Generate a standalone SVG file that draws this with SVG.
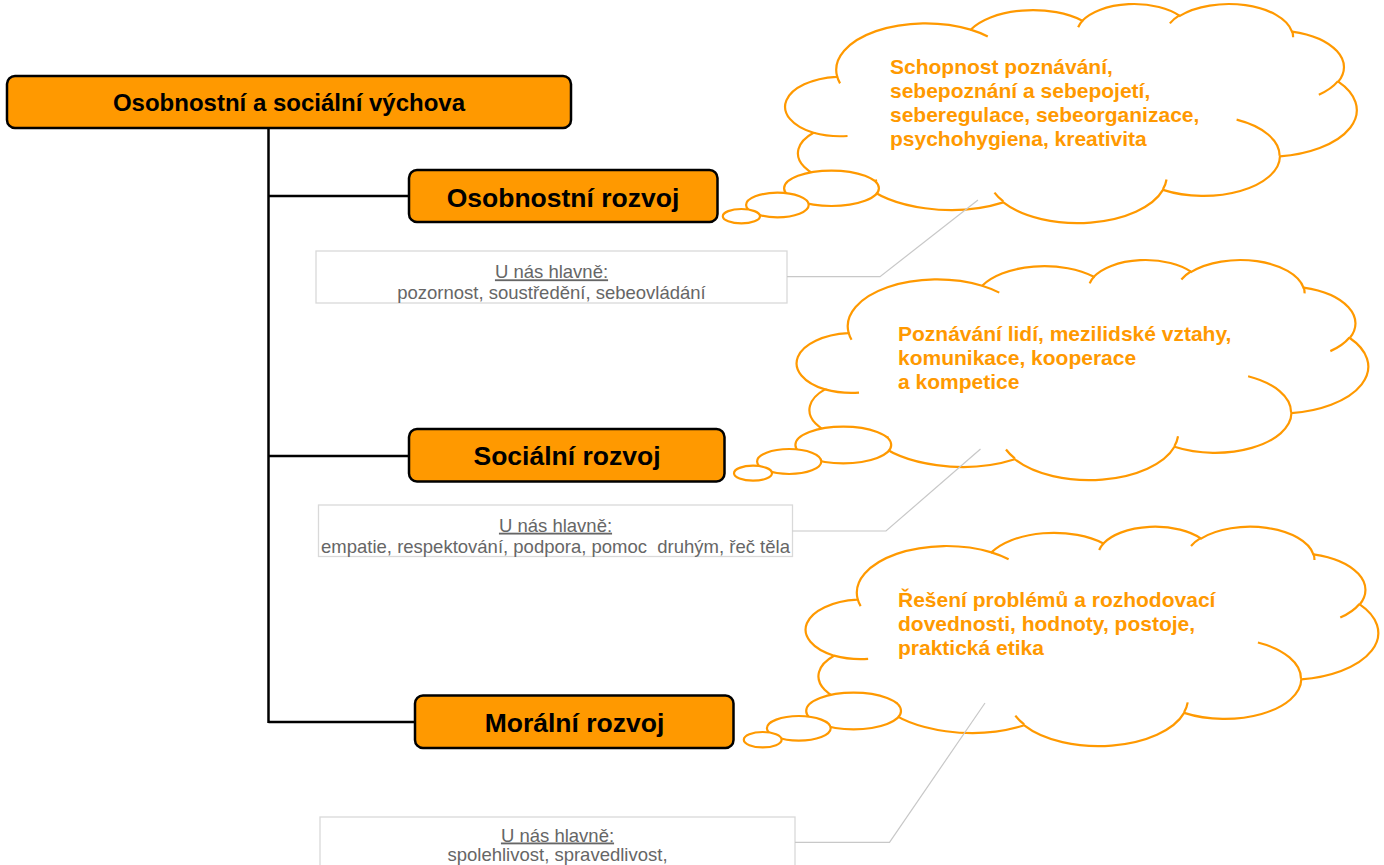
<svg xmlns="http://www.w3.org/2000/svg" xmlns:xlink="http://www.w3.org/1999/xlink" width="1384" height="865" viewBox="0 0 1384 865">
<style>
.node rect { fill:#FF9900; stroke:#000; stroke-width:2.5; }
.node text { font-family:"Liberation Sans", Arial, sans-serif; font-weight:bold; fill:#000; text-anchor:middle; }
.conn { stroke:#000; stroke-width:2.5; fill:none; }
.callout { stroke:#c8c8c8; stroke-width:1.2; fill:none; }
.note rect { fill:#fff; stroke:#d9d9d9; stroke-width:1.3; }
.note text { font-family:"Liberation Sans", Arial, sans-serif; font-size:18.5px; fill:#666; text-anchor:middle; white-space:pre; }
.bubble { fill:#fff; stroke:#FF9900; stroke-width:2.2; }
.ctext { font-family:"Liberation Sans", Arial, sans-serif; font-weight:bold; font-size:21px; fill:#FF9900; }
</style>
<defs>
<path id="cloudBody" fill="#fff" stroke="#FF9900" stroke-width="2.2" vector-effect="non-scaling-stroke" d="M3900 14370 A6753 9190 0 0 1 14005 5202 A5333 7267 0 0 1 22457 3431 A4365 5945 0 0 1 29833 2478 A4857 6595 0 0 1 38318 5573 A5333 7273 0 0 1 41819 15457 A6775 9220 0 0 1 37406 30202 A5785 7867 0 0 1 28558 36812 A6752 9215 0 0 1 16483 39264 A7720 10543 0 0 1 5808 35470 A4360 5918 0 0 1 2117 25547 A4345 5945 0 0 1 3868 14504 Z"/>
<path id="cloudWisps" fill="none" stroke="#FF9900" stroke-width="2.2" vector-effect="non-scaling-stroke" d="M4693 26177 A4345 5945 0 0 1 2117 25547 M6928 34899 A4360 5918 0 0 1 5808 35470 M16478 39090 A6752 9215 0 0 1 15810 37349 M28827 34751 A6752 9215 0 0 1 28560 36660 M34129 22954 A5785 7867 0 0 1 37380 30089 M41798 15354 A5333 7273 0 0 1 40349 18031 M38324 5426 A4857 6595 0 0 1 38400 6690 M29078 3952 A4857 6595 0 0 1 29820 2339 M22141 4720 A4365 5945 0 0 1 22500 3330 M14000 5192 A6753 9190 0 0 1 15302 6543 M4127 15789 A6753 9190 0 0 1 3900 14370"/>
</defs>

<g id="connectors">
<line class="conn" x1="268.5" y1="128" x2="268.5" y2="723"/>
<line class="conn" x1="268.5" y1="196" x2="409" y2="196"/>
<line class="conn" x1="268.5" y1="456" x2="409" y2="456"/>
<line class="conn" x1="268.5" y1="722" x2="415" y2="722"/>
</g>

<g id="root" class="node">
<rect x="7" y="76" width="564" height="52" rx="8"/>
<text x="289" y="110.5" font-size="24">Osobnostní a sociální výchova</text>
</g>
<g id="osobnostni" class="node">
<rect x="409" y="170" width="308.5" height="52" rx="8"/>
<text x="563" y="206.5" font-size="26.5">Osobnostní rozvoj</text>
</g>
<g id="socialni" class="node">
<rect x="409" y="429" width="315.5" height="52.5" rx="8"/>
<text x="567" y="465" font-size="26.5">Sociální rozvoj</text>
</g>
<g id="moralni" class="node">
<rect x="415" y="695.5" width="318.5" height="52.5" rx="8"/>
<text x="574.5" y="731.5" font-size="26.5">Morální rozvoj</text>
</g>

<g id="note1" class="note">
<rect x="316" y="251" width="471" height="52"/>
<text x="551.5" y="278.3" text-decoration="underline">U nás hlavně:</text>
<text x="551.5" y="299.3">pozornost, soustředění, sebeovládání</text>
</g>
<g id="note2" class="note">
<rect x="318.5" y="505" width="474" height="51.5"/>
<text x="555.5" y="531.7" text-decoration="underline">U nás hlavně:</text>
<text x="555.5" y="552.5" xml:space="preserve">empatie, respektování, podpora, pomoc  druhým, řeč těla</text>
</g>
<g id="note3" class="note">
<rect x="320" y="817" width="475" height="60"/>
<text x="557.5" y="841.5" text-decoration="underline">U nás hlavně:</text>
<text x="557.5" y="861">spolehlivost, spravedlivost,</text>
</g>

<g id="cloud1">
<g transform="translate(785.5 3.3) scale(0.013218 0.0050694)">
<use xlink:href="#cloudBody" href="#cloudBody"/>
<use xlink:href="#cloudWisps" href="#cloudWisps"/>
</g>
<ellipse class="bubble" cx="831.5" cy="188.3" rx="47.4" ry="17.7"/>
<ellipse class="bubble" cx="777.4" cy="205" rx="31.3" ry="12.3"/>
<ellipse class="bubble" cx="741.4" cy="216.2" rx="18.6" ry="7.2"/>
<text class="ctext" x="890" y="74">Schopnost poznávání,</text>
<text class="ctext" x="890" y="98">sebepoznání a sebepojetí,</text>
<text class="ctext" x="890" y="122">seberegulace, sebeorganizace,</text>
<text class="ctext" x="890" y="146">psychohygiena, kreativita</text>
</g>

<g id="cloud2">
<g transform="translate(797 259.3) scale(0.013218 0.0050926)">
<use xlink:href="#cloudBody" href="#cloudBody"/>
<use xlink:href="#cloudWisps" href="#cloudWisps"/>
</g>
<ellipse class="bubble" cx="843.3" cy="445" rx="47.9" ry="18.3"/>
<ellipse class="bubble" cx="789.2" cy="461.5" rx="32.1" ry="12.5"/>
<ellipse class="bubble" cx="753" cy="473.2" rx="19" ry="7.5"/>
<text class="ctext" x="898" y="341">Poznávání lidí, mezilidské vztahy,</text>
<text class="ctext" x="898" y="365">komunikace, kooperace</text>
<text class="ctext" x="898" y="389">a kompetice</text>
</g>

<g id="cloud3">
<g transform="translate(806 526) scale(0.013241 0.005076)">
<use xlink:href="#cloudBody" href="#cloudBody"/>
<use xlink:href="#cloudWisps" href="#cloudWisps"/>
</g>
<ellipse class="bubble" cx="853.6" cy="711" rx="47.4" ry="18.3"/>
<ellipse class="bubble" cx="798.8" cy="728.3" rx="31.9" ry="12.3"/>
<ellipse class="bubble" cx="762.7" cy="739.7" rx="18.9" ry="7.7"/>
<text class="ctext" x="898" y="607">Řešení problémů a rozhodovací</text>
<text class="ctext" x="898" y="631">dovednosti, hodnoty, postoje,</text>
<text class="ctext" x="898" y="655">praktická etika</text>
</g>

<g id="callouts">
<polyline class="callout" points="787,276.7 880,276.7 978,200"/>
<polyline class="callout" points="792.5,531 886,531 980.5,449"/>
<polyline class="callout" points="795,842.3 889.5,842.3 985,703"/>
</g>
</svg>
